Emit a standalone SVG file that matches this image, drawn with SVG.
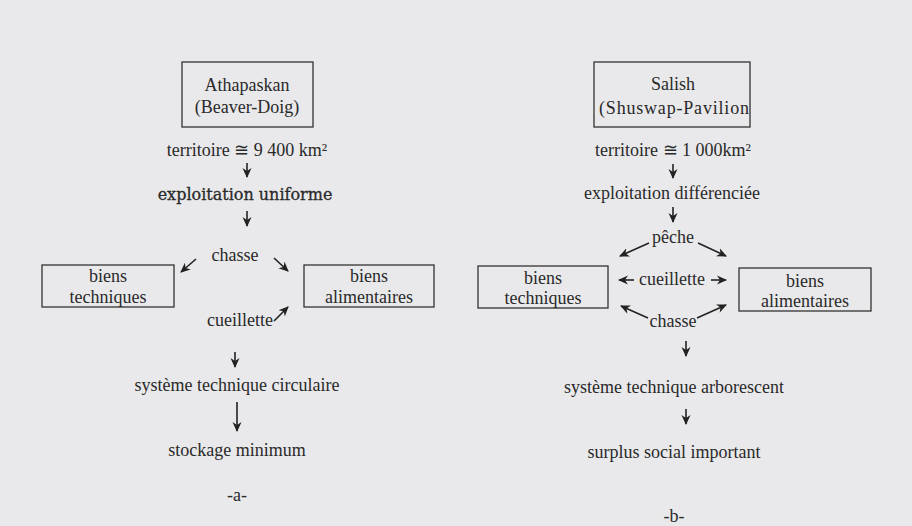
<svg xmlns="http://www.w3.org/2000/svg" width="912" height="526" viewBox="0 0 912 526">
<defs>
<marker id="ah" viewBox="0 0 10 10" refX="9" refY="5" markerWidth="10" markerHeight="10" markerUnits="userSpaceOnUse" orient="auto">
<path d="M0,0.5 L10,5 L0,9.5 L3,5 Z" fill="#222"/>
</marker>
<style>
text{font-family:"Liberation Serif","Times New Roman",serif;font-size:18px;fill:#2a2a2a;text-anchor:middle}
.pal{font-family:"DejaVu Serif","Liberation Serif",serif;font-size:16px;stroke:#2a2a2a;stroke-width:0.3}
.box{fill:none;stroke:#333;stroke-width:1.3}
.c{stroke:#222;stroke-width:1.6;fill:none;marker-end:url(#ah)}
</style>
</defs>
<rect width="912" height="526" fill="#e9e9eb"/>

<g id="a-header"><rect class="box" x="182" y="62" width="131" height="65"/><text x="247" y="91">Athapaskan</text><text x="247" y="113">(Beaver-Doig)</text></g>
<g id="a-territoire"><text x="247" y="156">territoire ≅ 9 400 km²</text></g>
<g id="a-exploitation"><text class="pal" x="245" y="200">exploitation uniforme</text></g>
<g id="a-chasse"><text x="235" y="261">chasse</text></g>
<g id="a-techniques"><rect class="box" x="42" y="265" width="132" height="42"/><text x="108" y="282">biens</text><text x="108" y="303">techniques</text></g>
<g id="a-alimentaires"><rect class="box" x="304" y="265" width="130" height="42"/><text x="369" y="282">biens</text><text x="369" y="303">alimentaires</text></g>
<g id="a-cueillette"><text x="240" y="326">cueillette</text></g>
<g id="a-systeme"><text x="237" y="391">système technique circulaire</text></g>
<g id="a-stockage"><text x="237" y="456">stockage minimum</text></g>
<g id="a-label"><text x="237" y="501">-a-</text></g>

<g id="b-header"><rect class="box" x="594" y="62" width="156" height="65"/><text x="673" y="90">Salish</text><text x="599" y="114" style="text-anchor:start" textLength="150" lengthAdjust="spacing">(Shuswap-Pavilion</text></g>
<g id="b-territoire"><text x="673" y="156">territoire ≅ 1 000km²</text></g>
<g id="b-exploitation"><text x="672" y="199">exploitation différenciée</text></g>
<g id="b-peche"><text x="673" y="243">pêche</text></g>
<g id="b-techniques"><rect class="box" x="478" y="266" width="130" height="42"/><text x="543" y="284">biens</text><text x="543" y="304">techniques</text></g>
<g id="b-alimentaires"><rect class="box" x="739" y="268" width="132" height="43"/><text x="805" y="287">biens</text><text x="805" y="307">alimentaires</text></g>
<g id="b-cueillette"><text x="672" y="285">cueillette</text></g>
<g id="b-chasse"><text x="673" y="327">chasse</text></g>
<g id="b-systeme"><text x="674" y="393">système technique arborescent</text></g>
<g id="b-surplus"><text x="674" y="458">surplus social important</text></g>
<g id="b-label"><text x="674" y="522">-b-</text></g>

<g id="connectors">
<line class="c" x1="247" y1="163" x2="247" y2="177"/>
<line class="c" x1="247" y1="211" x2="247" y2="226"/>
<line class="c" x1="196" y1="259" x2="181" y2="272"/>
<line class="c" x1="274" y1="258" x2="288" y2="271"/>
<line class="c" x1="274" y1="321" x2="288" y2="307"/>
<line class="c" x1="235" y1="352" x2="235" y2="367"/>
<line class="c" x1="237" y1="402" x2="237" y2="431"/>
<line class="c" x1="673" y1="164" x2="673" y2="178"/>
<line class="c" x1="673" y1="207" x2="673" y2="222"/>
<line class="c" x1="649" y1="243" x2="620" y2="256"/>
<line class="c" x1="698" y1="243" x2="726" y2="256"/>
<line class="c" x1="634" y1="280" x2="619" y2="280"/>
<line class="c" x1="711" y1="280" x2="726" y2="280"/>
<line class="c" x1="648" y1="318" x2="621" y2="306"/>
<line class="c" x1="697" y1="318" x2="726" y2="305"/>
<line class="c" x1="686" y1="341" x2="686" y2="356"/>
<line class="c" x1="686" y1="409" x2="686" y2="424"/>
</g>
</svg>
